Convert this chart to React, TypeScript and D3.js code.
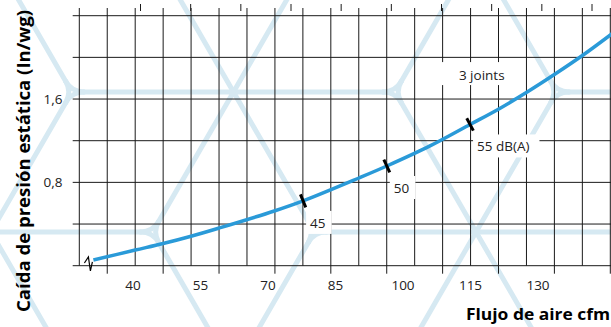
import * as d3 from "d3";

// air flow (cfm) vs static pressure drop (in/wg)
const flow = [31.2, 40.5, 46.7, 52.9, 59.0, 71.4, 77.8, 90.2, 96.4, 106.0, 115.0, 121.3, 127.5, 133.8, 140.1, 147.0];
const drop = [0.055, 0.15, 0.213, 0.283, 0.36, 0.525, 0.622, 0.842, 0.957, 1.15, 1.358, 1.505, 1.665, 1.84, 2.025, 2.245];

// noise markers on the curve
const noiseLabels = ["45", "50", "55 dB(A)"];
const noiseFlow = [77.8, 96.4, 114.9];
const noiseDrop = [0.622, 0.957, 1.356];

const jointsLabel = "3 joints";
const jointsFlow = 117.5;
const jointsDrop = 1.83;

const xTicks = [40, 55, 70, 85, 100, 115, 130];
const yGrid = [0, 0.4, 0.8, 1.2, 1.6, 2.0, 2.4];
const yLabelValues = [0.8, 1.6];

const W = 611;
const H = 327;
const FONT = "'Open Sans', 'Liberation Sans', sans-serif";

const x = d3.scaleLinear().domain([40, 130]).range([133, 538]);
const y = d3.scaleLinear().domain([0, 2.4]).range([265.7, 15.7]);
// paper grid: 20 vertical rules, top scale: 10 short ticks
const gridX = d3.scaleLinear().domain([0, 19]).range([79.3, 610.3]);
const topX = d3.scaleLinear().domain([0, 9]).range([140.5, 592]);
const gridLeft = 72.7;

// light blue watermark lattice
const wmColor = "#d6e9f2";
const wmA = 161.7;
const wmH = 140;
const wmX0 = 233.5;
const wmY0 = 92;
const wmR = 12;

function Watermark() {
  const nx = (i: number, j: number) => wmX0 + wmA * (i + j / 2);
  const ny = (j: number) => wmY0 + wmH * j;
  const full = (i: number, j: number) => (((i - j) % 3) + 3) % 3 === 0;
  const lines: JSX.Element[] = [];
  const fillets: JSX.Element[] = [];
  for (let j = -2; j <= 3; j++) {
    for (let i = -5; i <= 6; i++) {
      const nbs = [
        [i + 1, j],
        [i, j + 1],
        [i - 1, j + 1],
      ];
      nbs.forEach(([i2, j2], k) => {
        if (!full(i, j) && !full(i2, j2)) return;
        let x1 = nx(i, j), y1 = ny(j), x2 = nx(i2, j2), y2 = ny(j2);
        const len = Math.hypot(x2 - x1, y2 - y1);
        const ux = (x2 - x1) / len, uy = (y2 - y1) / len;
        if (!full(i, j)) { x1 += ux * wmR; y1 += uy * wmR; }
        if (!full(i2, j2)) { x2 -= ux * wmR; y2 -= uy * wmR; }
        lines.push(<line key={`e${i}_${j}_${k}`} x1={x1} y1={y1} x2={x2} y2={y2} />);
      });
      if (!full(i, j)) {
        const px = nx(i, j), py = ny(j);
        const all = [
          [i + 1, j], [i - 1, j], [i, j + 1], [i, j - 1], [i + 1, j - 1], [i - 1, j + 1],
        ].filter(([a, b]) => full(a, b));
        const pts = all.map(([a, b]) => {
          const dx = nx(a, b) - px, dy = ny(b) - py;
          const l = Math.hypot(dx, dy);
          return [px + (dx / l) * wmR, py + (dy / l) * wmR];
        });
        for (let p = 0; p < pts.length; p++) {
          for (let q = p + 1; q < pts.length; q++) {
            fillets.push(
              <path key={`f${i}_${j}_${p}_${q}`}
                d={`M${pts[p][0]},${pts[p][1]}Q${px},${py} ${pts[q][0]},${pts[q][1]}`} />
            );
          }
        }
      }
    }
  }
  return (
    <g stroke={wmColor} strokeWidth={5} fill="none" strokeLinecap="round">
      {lines}
      {fillets}
    </g>
  );
}

export default function App() {
  const curve = d3
    .line<number>()
    .x((d) => x(d))
    .y((_, i) => y(drop[i]))
    .curve(d3.curveCatmullRom.alpha(0.5))(flow);

  const x0 = x(flow[0]);
  const y0 = y(drop[0]);

  const markers = noiseFlow.map((f, i) => {
    const mx = x(f);
    const my = y(noiseDrop[i]);
    // perpendicular to the curve, from neighbouring points
    const k = flow.findIndex((v) => v > f);
    const dx = x(flow[k]) - x(flow[k - 1]);
    const dy = y(drop[k]) - y(drop[k - 1]);
    const l = Math.hypot(dx, dy);
    const px = -dy / l, py = dx / l;
    const label = noiseLabels[i];
    const bw = label.length * 6.8 + 12;
    return (
      <g key={label}>
        <rect x={mx + 3} y={my + 10} width={bw} height={23} fill="#fff" />
        <text x={mx + 7} y={my + 27} fontSize={13.5} fill="#222">{label}</text>
        <line
          x1={mx - px * 7} y1={my - py * 7} x2={mx + px * 7} y2={my + py * 7}
          stroke="#000" strokeWidth={3}
        />
      </g>
    );
  });

  const jx = x(jointsFlow);
  const jy = y(jointsDrop);

  return (
    <svg width={W} height={H} style={{ position: "absolute", left: 0, top: 0, background: "#fff" }}
      fontFamily={FONT}>
      <Watermark />

      {/* paper grid */}
      <g stroke="#1a1a1a" strokeWidth={1}>
        {yGrid.map((v) => (
          <line key={v} x1={gridLeft} x2={W} y1={y(v)} y2={y(v)} />
        ))}
        {d3.range(20).map((i) => (
          <line key={i} x1={gridX(i)} x2={gridX(i)} y1={8} y2={i % 2 ? y(0) + 8 : y(0)} />
        ))}
        {d3.range(10).map((i) => (
          <line key={i} x1={topX(i)} x2={topX(i)} y1={4} y2={11} />
        ))}
      </g>

      {/* label boxes over the grid */}
      <rect x={jx - 42} y={jy - 13} width={75} height={23} fill="#fff" />
      <text x={jx} y={jy + 5} textAnchor="middle" fontSize={13.5} fill="#222">{jointsLabel}</text>

      <path d={curve ?? ""} fill="none" stroke="#2a9ad8" strokeWidth={3.5} />
      <path
        d={`M${x0 - 9},${y0 + 3}L${x0 - 5},${y0 - 3}L${x0 - 3},${y0 + 11}L${x0 - 1},${y0 + 2}`}
        fill="none" stroke="#000" strokeWidth={1.2}
      />
      {markers}

      {/* tick labels */}
      {xTicks.map((t) => (
        <text key={t} x={x(t)} y={290} textAnchor="middle" fontSize={13.5} fill="#222">{t}</text>
      ))}
      {yLabelValues.map((v) => (
        <text key={v} x={62.5} y={y(v) + 4.5} textAnchor="end" fontSize={13.5} fill="#222">
          {d3.format(".1f")(v).replace(".", ",")}
        </text>
      ))}

      {/* axis titles */}
      <text transform="translate(30,161) rotate(-90)" textAnchor="middle" fontSize={17}
        fontWeight="bold" fill="#000" textLength={302} lengthAdjust="spacingAndGlyphs">
        Caída de presión estática (In/wg)
      </text>
      <text x={610} y={320} textAnchor="end" fontSize={16} fontWeight="bold" fill="#000"
        textLength={144} lengthAdjust="spacingAndGlyphs">
        Flujo de aire cfm
      </text>
    </svg>
  );
}
